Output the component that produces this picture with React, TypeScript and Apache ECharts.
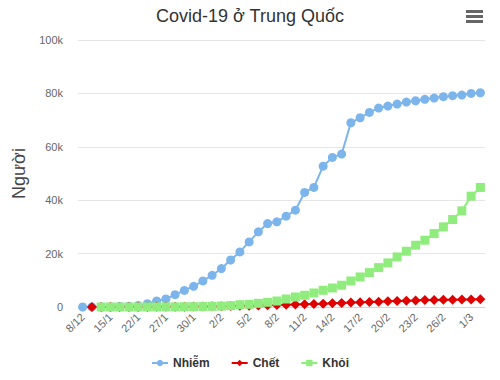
import React, { useEffect, useRef } from "react";
import * as echarts from "echarts";

const categories = [
  "8/12", "11/1", "13/1", "15/1", "18/1", "20/1", "22/1", "24/1", "25/1", "27/1",
  "28/1", "29/1", "30/1", "31/1", "1/2", "2/2", "3/2", "4/2", "5/2", "6/2",
  "7/2", "8/2", "9/2", "10/2", "11/2", "12/2", "13/2", "14/2", "15/2", "16/2",
  "17/2", "18/2", "19/2", "20/2", "21/2", "22/2", "23/2", "24/2", "25/2", "26/2",
  "27/2", "28/2", "1/3", "2/3",
];

const infected = [
  1, 41, 45, 62, 198, 291, 571, 1260, 2260, 3000,
  4630, 6200, 7760, 9750, 11880, 14380, 17600, 20640, 24390, 28140,
  31260, 31900, 34010, 36260, 42900, 44770, 52760, 56020, 57260, 69000,
  70880, 72880, 74510, 75260, 76010, 76760, 77250, 77770, 78260, 78760,
  79130, 79390, 80000, 80250,
];

const deaths = [
  null, 1, 1, 2, 3, 6, 17, 41, 56, 80,
  106, 132, 170, 213, 259, 304, 361, 425, 490, 562,
  636, 722, 811, 908, 1016, 1113, 1259, 1380, 1523, 1665,
  1770, 1868, 2004, 2118, 2236, 2345, 2442, 2592, 2663, 2715,
  2744, 2788, 2835, 2912,
];

const recovered = [
  null, null, 0, 0, 0, 0, 0, 25, 34, 47,
  60, 103, 124, 171, 243, 328, 500, 850, 1000, 1375,
  1760, 2250, 3000, 3750, 4390, 5250, 6260, 7130, 8140, 9750,
  11260, 12880, 14760, 16510, 18760, 20890, 23140, 25010, 27510, 30010,
  32760, 36010, 41510, 44770,
];

const FONT = "'Liberation Sans', Arial, Helvetica, sans-serif";

export default function App() {
  const ref = useRef<HTMLDivElement>(null);
  useEffect(() => {
    if (!ref.current) return;
    document.body.style.margin = "0";
    const chart = echarts.init(ref.current, undefined, { renderer: "svg" });
    chart.setOption({
      animation: false,
      textStyle: { fontFamily: FONT },
      title: {
        text: "Covid-19 ở Trung Quốc",
        left: "center",
        top: 2,
        textStyle: { fontSize: 18, fontWeight: "normal", color: "#333333", fontFamily: FONT },
      },
      graphic: [
        { type: "rect", shape: { x: 466, y: 10, width: 17, height: 3 }, style: { fill: "#666666" } },
        { type: "rect", shape: { x: 466, y: 15, width: 17, height: 3 }, style: { fill: "#666666" } },
        { type: "rect", shape: { x: 466, y: 20, width: 17, height: 3 }, style: { fill: "#666666" } },
      ],
      legend: {
        bottom: 6,
        left: "center",
        itemGap: 21,
        itemWidth: 16,
        itemHeight: 8,
        textStyle: { fontSize: 12, fontWeight: "bold", color: "#333333", fontFamily: FONT },
        data: ["Nhiễm", "Chết", "Khỏi"],
      },
      grid: { left: 78, right: 15, top: 40, bottom: 73 },
      xAxis: {
        type: "category",
        data: categories,
        boundaryGap: true,
        axisLine: { lineStyle: { color: "#ccd6eb" } },
        axisTick: { alignWithLabel: true, interval: 2, length: 10, lineStyle: { color: "#ccd6eb" } },
        axisLabel: { interval: 2, rotate: 45, fontSize: 11, color: "#666666", margin: 8, fontFamily: FONT },
      },
      yAxis: {
        type: "value",
        min: 0,
        max: 100000,
        interval: 20000,
        name: "Người",
        nameLocation: "middle",
        nameGap: 41,
        nameTextStyle: { fontSize: 18, color: "#444444", fontFamily: FONT },
        axisLine: { show: false },
        axisTick: { show: false },
        splitLine: { lineStyle: { color: "#e6e6e6" } },
        axisLabel: {
          margin: 15,
          fontSize: 11,
          color: "#666666",
          fontFamily: FONT,
          formatter: (v: number) => (v === 0 ? "0" : v / 1000 + "k"),
        },
      },
      series: [
        {
          name: "Nhiễm",
          type: "line",
          data: infected,
          symbol: "circle",
          symbolSize: 9,
          showAllSymbol: true,
          itemStyle: { color: "#7cb5ec" },
          lineStyle: { width: 2, color: "#7cb5ec" },
        },
        {
          name: "Chết",
          type: "line",
          data: deaths,
          symbol: "diamond",
          symbolSize: 10,
          showAllSymbol: true,
          itemStyle: { color: "#e00000" },
          lineStyle: { width: 2, color: "#e00000" },
        },
        {
          name: "Khỏi",
          type: "line",
          data: recovered,
          symbol: "rect",
          symbolSize: 9,
          showAllSymbol: true,
          itemStyle: { color: "#90ed7d" },
          lineStyle: { width: 2, color: "#90ed7d" },
        },
      ],
    });
    return () => chart.dispose();
  }, []);
  return <div ref={ref} style={{ width: 500, height: 380 }} />;
}
